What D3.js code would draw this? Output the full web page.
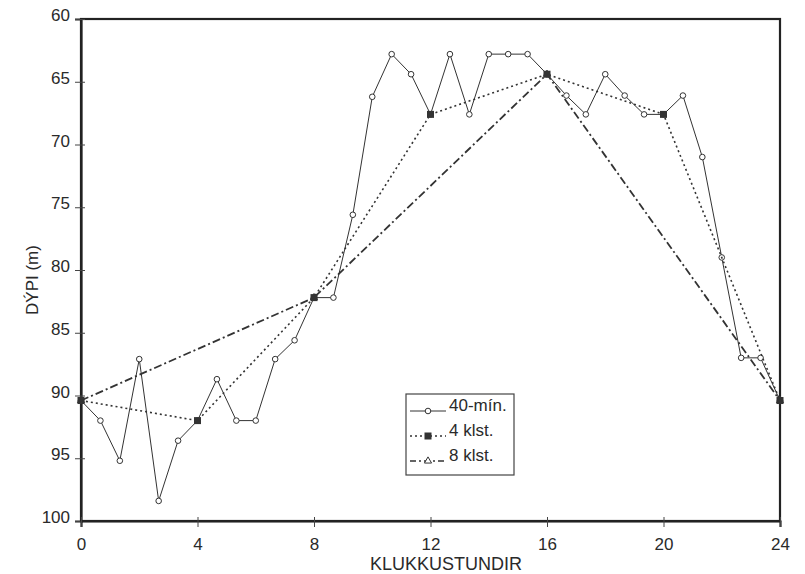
<!DOCTYPE html>
<html lang="is">
	<head>
		<meta charset="utf-8">
		<title>Dýpi eftir klukkustundum</title>
		<script type="text/javascript" src="https://cdnjs.cloudflare.com/ajax/libs/d3/7.8.5/d3.min.js"></script>
		<style type="text/css">
			body { margin:0; background:#fff; }
			text { font-family:"Liberation Sans", Arial, sans-serif; fill:#2a2a2a; }
		</style>
	</head>
	<body>
		<script type="text/javascript">
			var w = 805;
			var h = 574;

			// 40 min readings (hour, depth m)
			var hours40 = [0, 2/3, 4/3, 2, 8/3, 10/3, 4, 14/3, 16/3, 6, 20/3, 22/3, 8,
			               26/3, 28/3, 10, 32/3, 34/3, 12, 38/3, 40/3, 14, 44/3, 46/3, 16,
			               50/3, 52/3, 18, 56/3, 58/3, 20, 62/3, 64/3, 22, 68/3, 70/3, 24];
			var depth40 = [90.4, 92.0, 95.2, 87.1, 98.4, 93.6, 92.0, 88.7, 92.0, 92.0, 87.1, 85.6, 82.2,
			               82.2, 75.6, 66.2, 62.8, 64.4, 67.6, 62.8, 67.6, 62.8, 62.8, 62.8, 64.4,
			               66.1, 67.6, 64.4, 66.1, 67.6, 67.6, 66.1, 71.0, 79.0, 87.0, 87.0, 90.4];
			var hours4 = [0, 4, 8, 12, 16, 20, 24];
			var depth4 = [90.4, 92.0, 82.2, 67.6, 64.4, 67.6, 90.4];
			var hours8 = [0, 8, 16, 24];
			var depth8 = [90.4, 82.2, 64.4, 90.4];

			var xTicks = [0, 4, 8, 12, 16, 20, 24];
			var yTicks = [60, 65, 70, 75, 80, 85, 90, 95, 100];
			var seriesNames = ["40-mín.", "4 klst.", "8 klst."];

			var x = d3.scaleLinear().domain([0, 24]).range([81, 780]);
			var y = d3.scaleLinear().domain([60, 100]).range([19, 521]);

			var svg = d3.select("body").append("svg")
				.attr("width", w)
				.attr("height", h);

			// frame
			svg.append("rect")
				.attr("x", x(0)).attr("y", y(60))
				.attr("width", x(24) - x(0)).attr("height", y(100) - y(60))
				.attr("fill", "none").attr("stroke", "#222").attr("stroke-width", 2.2);

			// axes
			var yAxis = svg.append("g")
				.attr("transform", "translate(" + x(0) + ",0)")
				.call(d3.axisLeft(y).tickValues(yTicks).tickSize(6).tickPadding(5));
			var xAxis = svg.append("g")
				.attr("transform", "translate(0," + y(100) + ")")
				.call(d3.axisBottom(x).tickValues(xTicks).tickSize(6).tickPadding(11));

			[yAxis, xAxis].forEach(function(a) {
				a.select(".domain").attr("stroke", "#222").attr("stroke-width", 2.2);
				a.selectAll(".tick line").attr("stroke", "#444");
				a.selectAll(".tick text")
					.attr("font-family", "Liberation Sans, Arial, sans-serif")
					.attr("font-size", "17px")
					.attr("fill", "#2a2a2a");
			});
			yAxis.selectAll(".tick line").attr("x2", -6).attr("x1", 4);
			yAxis.selectAll(".tick text").attr("dy", "0.1em");
			xAxis.selectAll(".tick line").attr("y1", -4);

			svg.append("text")
				.attr("transform", "translate(38,280) rotate(-90)")
				.attr("text-anchor", "middle")
				.attr("font-size", "17px")
				.text("DÝPI (m)");

			svg.append("text")
				.attr("x", 446).attr("y", 570)
				.attr("text-anchor", "middle")
				.attr("font-size", "18px")
				.text("KLUKKUSTUNDIR");

			var line = d3.line()
				.x(function(d) { return x(d[0]); })
				.y(function(d) { return y(d[1]); });

			var pts40 = d3.zip(hours40, depth40);
			var pts4 = d3.zip(hours4, depth4);
			var pts8 = d3.zip(hours8, depth8);

			// 8 klst
			svg.append("path").datum(pts8)
				.attr("d", line)
				.attr("fill", "none").attr("stroke", "#333")
				.attr("stroke-width", 1.8).attr("stroke-dasharray", "8,3,2,3");
			svg.selectAll(".tri").data(pts8).enter().append("path")
				.attr("transform", function(d) { return "translate(" + x(d[0]) + "," + y(d[1]) + ")"; })
				.attr("d", d3.symbol().type(d3.symbolTriangle).size(22))
				.attr("fill", "#fff").attr("stroke", "#333");

			// 40 min
			svg.append("path").datum(pts40)
				.attr("d", line)
				.attr("fill", "none").attr("stroke", "#333").attr("stroke-width", 1);
			svg.selectAll(".dia").data(pts40).enter().append("circle")
				.attr("cx", function(d) { return x(d[0]); })
				.attr("cy", function(d) { return y(d[1]); })
				.attr("r", 2.8)
				.attr("fill", "#fff").attr("stroke", "#333").attr("stroke-width", 1);

			// 4 klst
			svg.append("path").datum(pts4)
				.attr("d", line)
				.attr("fill", "none").attr("stroke", "#333")
				.attr("stroke-width", 1.6).attr("stroke-dasharray", "2,3");
			svg.selectAll(".sq").data(pts4).enter().append("rect")
				.attr("x", function(d) { return x(d[0]) - 3.5; })
				.attr("y", function(d) { return y(d[1]) - 3.5; })
				.attr("width", 7).attr("height", 7)
				.attr("fill", "#333");

			// legend
			var lg = svg.append("g");
			lg.append("rect")
				.attr("x", 406).attr("y", 394).attr("width", 108).attr("height", 81)
				.attr("fill", "#fff").attr("stroke", "#444").attr("stroke-width", 1.2);

			var rowY = [411, 436, 461];
			var dashes = [null, "2,3", "6,3,2,3"];
			var widths = [1, 1.6, 1.4];
			seriesNames.forEach(function(name, i) {
				lg.append("line")
					.attr("x1", 410).attr("x2", 446)
					.attr("y1", rowY[i]).attr("y2", rowY[i])
					.attr("stroke", "#333").attr("stroke-width", widths[i])
					.attr("stroke-dasharray", dashes[i]);
				lg.append("text")
					.attr("x", 449).attr("y", rowY[i])
					.attr("font-size", "17px")
					.text(name);
			});
			lg.append("circle").attr("cx", 428).attr("cy", rowY[0]).attr("r", 2.8)
				.attr("fill", "#fff").attr("stroke", "#333");
			lg.append("rect").attr("x", 424.5).attr("y", rowY[1] - 3.5).attr("width", 7).attr("height", 7)
				.attr("fill", "#333");
			lg.append("path")
				.attr("transform", "translate(428," + rowY[2] + ")")
				.attr("d", d3.symbol().type(d3.symbolTriangle).size(22))
				.attr("fill", "#fff").attr("stroke", "#333");
		</script>
	</body>
</html>
